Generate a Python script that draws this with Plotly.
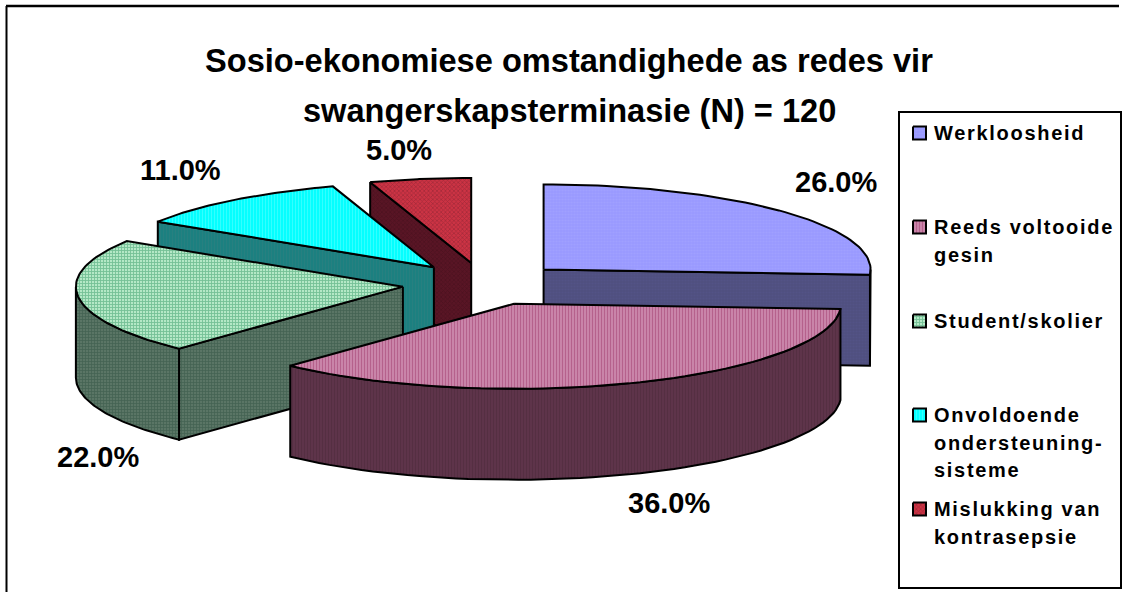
"""Exploded 3D-look pie built on scatter polygons in a pixel-sized plot area."""

import numpy as np
import plotly.graph_objects as go

# ── Data ──────────────────────────────────────────────────────────────────────

CATEGORIES = [
    "Werkloosheid",
    "Reeds voltooide gesin",
    "Student/skolier",
    "Onvoldoende ondersteuning-sisteme",
    "Mislukking van kontrasepsie",
]
VALUES = [26.0, 36.0, 22.0, 11.0, 5.0]
LEGEND_LINES = [
    ["Werkloosheid"],
    ["Reeds voltooide", "gesin"],
    ["Student/skolier"],
    ["Onvoldoende", "ondersteuning-", "sisteme"],
    ["Mislukking van", "kontrasepsie"],
]
TITLE_LINES = [
    "Sosio-ekonomiese omstandighede as redes vir",
    "swangerskapsterminasie (N) = 120",
]

# ── Styles and layout (pixels) ────────────────────────────────────────────────

W, H = 1124, 592
CX, CY = 484, 284
RX, RY = 327, 85
DEPTH = 91
EXPLODE = 0.25
FONT = "Liberation Sans"

TOP_STYLE = [
    dict(shape=".", bgcolor="#9999FF", fgcolor="#A8A8FF", size=3, solidity=0.4),
    dict(shape="|", bgcolor="#D08FB2", fgcolor="#993366", size=3, solidity=0.5),
    dict(shape="+", bgcolor="#B4E8C6", fgcolor="#339966", size=3, solidity=0.5),
    dict(shape="|", bgcolor="#00FFFF", fgcolor="#66FFFF", size=3, solidity=0.4),
    dict(shape="x", bgcolor="#CC3344", fgcolor="#802030", size=3, solidity=0.45),
]
WALL_STYLE = [
    dict(shape=".", bgcolor="#4F4F80", fgcolor="#58588C", size=3, solidity=0.4),
    dict(shape="|", bgcolor="#60364B", fgcolor="#4A2739", size=3, solidity=0.5),
    dict(shape="+", bgcolor="#5A7565", fgcolor="#2F4F3F", size=3, solidity=0.45),
    dict(shape="|", bgcolor="#1A8080", fgcolor="#338080", size=3, solidity=0.4),
    dict(shape="x", bgcolor="#591525", fgcolor="#3F0F1A", size=3, solidity=0.45),
]
LABEL_POS = [(836, 182), (669, 503), (98, 457), (180, 170), (399, 150)]
TITLE_POS = [(569, 60), (569, 110)]
LEGEND_BOX = (899, 112, 1121, 588)
LEGEND_KEY_YS = [133, 227, 321, 415, 509]
LEGEND_LINE_STEP = 27.5


def rim(apex, start, end, n=60):
    """Points on the ellipse rim of a slice, angles in degrees clockwise from 12 o'clock."""
    theta = np.radians(np.linspace(start, end, n))
    return apex[0] + RX * np.sin(theta), apex[1] - RY * np.cos(theta)


def add_poly(fig, xs, ys, pattern):
    fig.add_trace(go.Scatter(
        x=list(xs) + [xs[0]], y=list(ys) + [ys[0]], mode="lines", fill="toself",
        line=dict(color="black", width=2), fillpattern=pattern,
        hoverinfo="skip", showlegend=False,
    ))


def add_radial_wall(fig, apex, angle, pattern):
    x, y = rim(apex, angle, angle, 1)
    add_poly(fig, [apex[0], x[0], x[0], apex[0]],
             [apex[1], y[0], y[0] + DEPTH, apex[1] + DEPTH], pattern)


# ── Geometry from the values ──────────────────────────────────────────────────

fractions = np.array(VALUES) / sum(VALUES)
edges = np.concatenate([[0], np.cumsum(fractions) * 360])

fig = go.Figure()

# painter's order: back slices first, front slice last
for i in [4, 3, 0, 2, 1]:
    a, b = edges[i], edges[i + 1]
    mid = np.radians((a + b) / 2)
    apex = (CX + EXPLODE * RX * np.sin(mid), CY - EXPLODE * RY * np.cos(mid))

    if np.sin(np.radians(a)) < -1e-6:
        add_radial_wall(fig, apex, a, WALL_STYLE[i])
    if np.sin(np.radians(b)) > 1e-6:
        add_radial_wall(fig, apex, b, WALL_STYLE[i])
    front_a, front_b = max(a, 90), min(b, 270)
    if front_a < front_b:
        x, y = rim(apex, front_a, front_b)
        add_poly(fig, np.concatenate([x, x[::-1]]),
                 np.concatenate([y, y[::-1] + DEPTH]), WALL_STYLE[i])

    x, y = rim(apex, a, b)
    add_poly(fig, np.concatenate([[apex[0]], x]), np.concatenate([[apex[1]], y]), TOP_STYLE[i])

# legend keys
for y, pattern in zip(LEGEND_KEY_YS, TOP_STYLE):
    add_poly(fig, [913, 926, 926, 913], [y - 6.5, y - 6.5, y + 6.5, y + 6.5], pattern)

annotations = []


def add_text(text, x, y, size, anchor="center", spacing=0):
    if spacing:
        text = f'<span style="letter-spacing:{spacing}px">{text}</span>'
    annotations.append(dict(
        text=text, x=x, y=y, xref="x", yref="y", showarrow=False, xanchor=anchor, yanchor="middle",
        font=dict(family=FONT, size=size, color="black", weight="bold"),
    ))


for line, (x, y) in zip(TITLE_LINES, TITLE_POS):
    add_text(line, x, y, 32.6)
for value, (x, y) in zip(VALUES, LABEL_POS):
    add_text(f"{value:.1f}%", x, y, 29)
for lines, y0 in zip(LEGEND_LINES, LEGEND_KEY_YS):
    for j, line in enumerate(lines):
        add_text(line, 932, y0 + j * LEGEND_LINE_STEP, 20, anchor="left", spacing=1.7)

lx0, ly0, lx1, ly1 = LEGEND_BOX
shapes = [
    dict(type="rect", x0=lx0, y0=ly0, x1=lx1, y1=ly1, line=dict(color="black", width=2)),
    dict(type="line", x0=6.5, y0=6, x1=6.5, y1=H, line=dict(color="black", width=2)),
    dict(type="line", x0=6, y0=6, x1=1119, y1=6, line=dict(color="black", width=2.5)),
]

fig.update_layout(
    width=W, height=H, margin=dict(l=0, r=0, t=0, b=0),
    paper_bgcolor="white", plot_bgcolor="white",
    xaxis=dict(range=[0, W], visible=False, fixedrange=True),
    yaxis=dict(range=[H, 0], visible=False, fixedrange=True),
    annotations=annotations, shapes=shapes, showlegend=False,
)

fig.write_html("out.html", config={"displayModeBar": False},
               post_script="document.body.style.margin='0';")
